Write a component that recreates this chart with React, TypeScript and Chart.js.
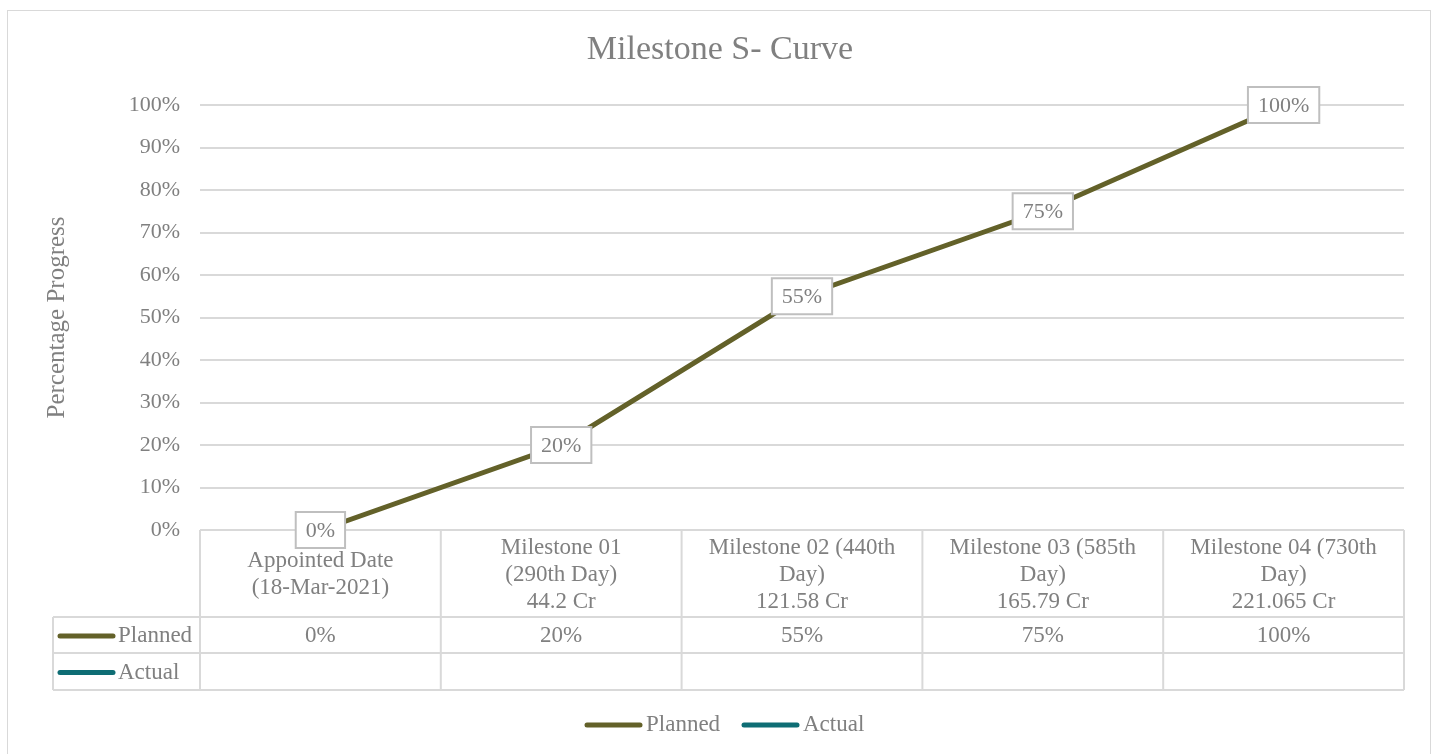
import React, { useEffect, useRef } from "react";
import { Chart, registerables } from "chart.js";
Chart.register(...registerables);

const chartTitle = "Milestone S- Curve";
const yAxisTitle = "Percentage Progress";
const categories: string[][] = [
  ["Appointed Date", "(18-Mar-2021)"],
  ["Milestone 01", "(290th Day)", "44.2 Cr"],
  ["Milestone 02 (440th", "Day)", "121.58 Cr"],
  ["Milestone 03 (585th", "Day)", "165.79 Cr"],
  ["Milestone 04 (730th", "Day)", "221.065 Cr"],
];
const planned: number[] = [0, 0.2, 0.55, 0.75, 1.0];
const actual: (number | null)[] = [null, null, null, null, null];
const seriesNames = ["Planned", "Actual"];
const seriesColors = ["#636129", "#0e6d74"];

const FONT = "'Liberation Serif', 'DejaVu Serif', serif";
const TEXT = "#808080";
const GRID = "#d9d9d9";

const pct = (v: number) => Math.round(v * 100) + "%";

const tablePlugin = {
  id: "tablePlugin",
  afterDraw(chart: any) {
    const ctx = chart.ctx as CanvasRenderingContext2D;
    const area = chart.chartArea;
    const x = chart.scales.x;
    const y = chart.scales.y;
    const n = categories.length;
    const colW = (area.right - area.left) / n;
    const top = area.bottom;
    const headerBottom = top + 87;
    const row1Bottom = headerBottom + 36;
    const row2Bottom = row1Bottom + 37;
    const tableLeft = 53;

    ctx.save();
    // outer border
    ctx.strokeStyle = GRID;
    ctx.lineWidth = 1;
    ctx.strokeRect(7.5, 10.5, 1423, 760);

    // title
    ctx.fillStyle = TEXT;
    ctx.font = `34px ${FONT}`;
    ctx.textAlign = "center";
    ctx.textBaseline = "middle";
    ctx.fillText(chartTitle, 720, 50);

    // table lines
    ctx.strokeStyle = GRID;
    ctx.lineWidth = 2;
    ctx.beginPath();
    ctx.moveTo(area.left, top);
    ctx.lineTo(area.right, top);
    [headerBottom, row1Bottom, row2Bottom].forEach((yy) => {
      ctx.moveTo(tableLeft, yy);
      ctx.lineTo(area.right, yy);
    });
    for (let i = 0; i <= n; i++) {
      const xx = area.left + i * colW;
      ctx.moveTo(xx, top);
      ctx.lineTo(xx, row2Bottom);
    }
    ctx.moveTo(tableLeft, headerBottom);
    ctx.lineTo(tableLeft, row2Bottom);
    ctx.stroke();

    // header text
    ctx.fillStyle = TEXT;
    ctx.font = `23px ${FONT}`;
    const lh = 27;
    categories.forEach((lines, i) => {
      const cx = x.getPixelForValue(i);
      const cy = (top + headerBottom) / 2 + 1;
      const start = cy - ((lines.length - 1) * lh) / 2;
      lines.forEach((ln, k) => ctx.fillText(ln, cx, start + k * lh));
    });

    // series rows
    const rows = [planned, actual];
    const rowCenters = [(headerBottom + row1Bottom) / 2 + 1, (row1Bottom + row2Bottom) / 2 + 1];
    rows.forEach((vals, r) => {
      const cy = rowCenters[r];
      ctx.strokeStyle = seriesColors[r];
      ctx.lineWidth = 5;
      ctx.lineCap = "round";
      ctx.beginPath();
      ctx.moveTo(60, cy);
      ctx.lineTo(113, cy);
      ctx.stroke();
      ctx.fillStyle = TEXT;
      ctx.textAlign = "left";
      ctx.fillText(seriesNames[r], 118, cy);
      ctx.textAlign = "center";
      vals.forEach((v, i) => {
        if (v !== null && v !== undefined) ctx.fillText(pct(v as number), x.getPixelForValue(i), cy);
      });
    });

    // data labels
    ctx.font = `22px ${FONT}`;
    planned.forEach((v, i) => {
      const px = x.getPixelForValue(i);
      const py = y.getPixelForValue(v);
      const t = pct(v);
      const w = ctx.measureText(t).width + 20;
      const h = 36;
      ctx.fillStyle = "#ffffff";
      ctx.fillRect(px - w / 2, py - h / 2, w, h);
      ctx.strokeStyle = "#bfbfbf";
      ctx.lineWidth = 2;
      ctx.strokeRect(px - w / 2, py - h / 2, w, h);
      ctx.fillStyle = TEXT;
      ctx.textAlign = "center";
      ctx.fillText(t, px, py + 1);
    });

    // legend
    ctx.font = `23px ${FONT}`;
    const ly = 725;
    const items = [
      { x0: 587, x1: 640, tx: 646 },
      { x0: 744, x1: 797, tx: 803 },
    ];
    items.forEach((it, r) => {
      ctx.strokeStyle = seriesColors[r];
      ctx.lineWidth = 5;
      ctx.lineCap = "round";
      ctx.beginPath();
      ctx.moveTo(it.x0, ly);
      ctx.lineTo(it.x1, ly);
      ctx.stroke();
      ctx.fillStyle = TEXT;
      ctx.textAlign = "left";
      ctx.fillText(seriesNames[r], it.tx, ly);
    });
    ctx.restore();
  },
};

export default function App() {
  const ref = useRef<HTMLCanvasElement | null>(null);
  useEffect(() => {
    document.body.style.margin = "0";
    const canvas = ref.current!;
    const chart = new Chart(canvas, {
      type: "line",
      data: {
        labels: categories.map((c) => c.join(" ")),
        datasets: [
          {
            label: seriesNames[0],
            data: planned,
            borderColor: seriesColors[0],
            backgroundColor: seriesColors[0],
            borderWidth: 5,
            pointRadius: 0,
            tension: 0,
          },
          {
            label: seriesNames[1],
            data: actual,
            borderColor: seriesColors[1],
            backgroundColor: seriesColors[1],
            borderWidth: 5,
            pointRadius: 0,
            tension: 0,
          },
        ],
      },
      options: {
        responsive: false,
        animation: false,
        layout: { padding: { top: 105, bottom: 64, left: 0, right: 33 } },
        plugins: {
          legend: { display: false },
          title: { display: false },
          tooltip: { enabled: false },
        },
        scales: {
          x: {
            type: "category",
            offset: true,
            ticks: { display: false },
            grid: { display: false },
            border: { display: false },
            afterFit: (s: any) => {
              s.height = 160;
            },
          },
          y: {
            min: 0,
            max: 1,
            ticks: {
              stepSize: 0.1,
              callback: (v: any) => pct(Number(v)),
              font: { family: FONT, size: 22 },
              color: TEXT,
              padding: 20,
            },
            grid: { color: GRID, lineWidth: 2, drawTicks: false },
            border: { display: false },
            title: {
              display: true,
              text: yAxisTitle,
              font: { family: FONT, size: 25 },
              color: TEXT,
              padding: { top: 42, bottom: 0 },
            },
            afterFit: (s: any) => {
              s.width = 200;
            },
          },
        },
      },
      plugins: [tablePlugin],
    } as any);
    return () => chart.destroy();
  }, []);
  return (
    <div style={{ width: 1437, height: 754 }}>
      <canvas ref={ref} width={1437} height={754} style={{ display: "block" }} />
    </div>
  );
}
